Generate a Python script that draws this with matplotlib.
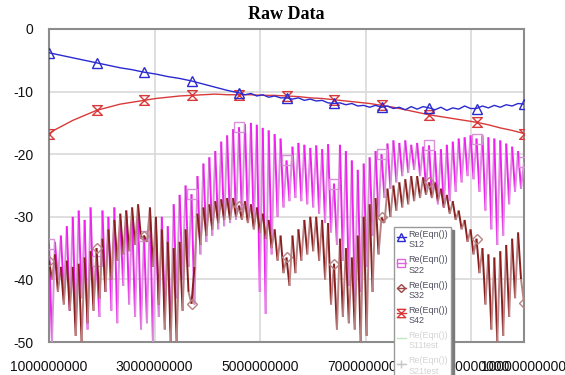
import numpy as np
import matplotlib.pyplot as plt
from matplotlib.lines import Line2D
from matplotlib.path import Path
from matplotlib.collections import LineCollection
from matplotlib.legend_handler import HandlerLine2D

plt.rcParams['font.family'] = ['Liberation Sans', 'DejaVu Sans']
plt.rcParams['axes.unicode_minus'] = False

# frequency sweep (Hz)
f_start, f_stop = 1e9, 1e10
x_ticks = [1e9, 3e9, 5e9, 7e9, 9e9, 1e10]
y_ticks = [0, -10, -20, -30, -40, -50]

# S12 and S42 are smooth traces, 81 samples across the sweep
s12 = [-3.8, -4.0, -4.2, -4.4, -4.6, -4.8, -5.0, -5.2,
       -5.4, -5.6, -5.8, -6.0, -6.2, -6.35, -6.5, -6.7,
       -6.9, -7.05, -7.2, -7.4, -7.6, -7.75, -7.9, -8.1,
       -8.3, -8.55, -8.8, -9.05, -9.3, -9.55, -9.8, -10.0,
       -10.2, -10.5, -10.3, -10.7, -10.5, -10.9, -10.7, -11.0,
       -11.0, -11.2, -11.0, -11.4, -11.2, -11.5, -11.4, -11.8,
       -11.9, -11.8, -12.1, -11.9, -12.3, -12.2, -12.5, -12.2,
       -12.5, -12.3, -12.7, -12.5, -12.9, -12.4, -12.8, -12.4,
       -12.6, -12.9, -12.5, -13.0, -12.6, -12.8, -12.3, -12.7,
       -12.7, -12.3, -12.6, -12.2, -12.5, -12.1, -12.3, -11.9,
       -12.0]
s42 = [-16.7, -16.1, -15.6, -15.1, -14.6, -14.2, -13.8, -13.4,
       -13.0, -12.75, -12.5, -12.25, -12.0, -11.85, -11.7, -11.55,
       -11.4, -11.25, -11.1, -11.0, -10.9, -10.8, -10.7, -10.65,
       -10.6, -10.55, -10.5, -10.45, -10.4, -10.45, -10.5, -10.5,
       -10.5, -10.5, -10.5, -10.55, -10.6, -10.6, -10.6, -10.65,
       -10.7, -10.75, -10.8, -10.9, -11.0, -11.05, -11.1, -11.2,
       -11.3, -11.4, -11.5, -11.6, -11.7, -11.8, -11.9, -12.05,
       -12.2, -12.35, -12.5, -12.7, -12.9, -13.1, -13.3, -13.5,
       -13.7, -13.85, -14.0, -14.15, -14.3, -14.45, -14.6, -14.75,
       -14.9, -15.1, -15.3, -15.55, -15.8, -16.0, -16.2, -16.45,
       -16.7]

# S22 / S32 ripple hard: local maxima (81) and minima (80) of each trace
s22_hi = [-34.3, -34, -33, -31.5, -30, -29, -30.5, -28.5,
          -37, -29, -30, -28.5, -30.5, -29, -30, -29.5,
          -33, -29, -31, -30, -31.5, -28, -26.5, -25,
          -26.4, -23.5, -21.5, -20.5, -19.5, -18, -17, -16,
          -15.7, -15.2, -15, -15.3, -15.8, -16.2, -16.8, -17.5,
          -21, -18.8, -18.2, -18.5, -19, -18.6, -19.2, -18.4,
          -24.7, -18.5, -19.5, -21, -22.5, -21.5, -20.5, -19.5,
          -20, -18.3, -17.8, -18.2, -17.8, -18.5, -18.2, -18.8,
          -18.6, -19.5, -19.2, -18.5, -18, -17.5, -17.3, -17,
          -17.5, -17, -17.3, -17.5, -17.8, -18.3, -18.8, -19.5,
          -21.3]
s22_lo = [-50, -40, -42, -45, -47, -43, -48, -44,
          -46, -42, -45, -47, -41, -44, -46, -48,
          -47, -50, -46, -45, -48, -43, -40, -38,
          -44, -36, -34, -33, -32, -31.5, -31, -30.5,
          -30, -30.5, -31.5, -42, -45.5, -36, -30, -28.5,
          -27.5, -27, -27.5, -28, -28.5, -29.5, -31, -32.5,
          -34.5, -37, -41, -43.5, -42, -38, -33, -30,
          -27, -25.5, -24.5, -23.5, -23, -22.5, -23.5, -25.5,
          -27, -28, -28.5, -27.5, -26, -24.5, -23.5, -24,
          -26, -29, -32, -34.5, -33, -28, -26, -25.5]
s32_hi = [-37, -36, -38, -37, -38, -37.5, -36.5, -35.5,
          -35, -33.5, -32, -30.5, -29.5, -29, -28.5, -28,
          -33, -28.5, -30, -32, -34, -35, -34, -32,
          -43.9, -29.5, -28.5, -28, -27.5, -27.2, -27, -27,
          -28.2, -27.5, -28, -28.5, -29.5, -30.5, -32, -33,
          -36.5, -33, -32, -30.5, -30, -30, -30.5, -31,
          -37.5, -33.5, -35, -36.5, -33, -30, -28, -27,
          -30.1, -25.5, -25, -24.5, -24, -23.5, -23.5, -23.7,
          -24.5, -24.5, -25.5, -26.5, -27.5, -29, -30.5, -32,
          -33.5, -35, -36, -36.5, -35.5, -34.5, -33.5, -32.5,
          -43.7]
s32_lo = [-40, -42, -44, -45, -49, -50, -47, -45,
          -43, -42, -40, -37, -36, -35.5, -34.5, -33.5,
          -34, -38, -44, -48, -50, -50, -45, -42,
          -38, -34.5, -33, -32, -31, -30.5, -30.5, -30,
          -30.5, -31, -32, -32.5, -33.5, -35, -37, -39,
          -41, -39, -37, -36, -35.5, -37, -40, -44,
          -48, -46, -47, -48, -50, -49, -42, -36,
          -31, -30, -29, -28.5, -28, -27.5, -27, -26.5,
          -27, -27.5, -28.5, -29.5, -30.5, -32, -34, -36,
          -39, -44, -48, -50, -49, -46, -43, -40]

f_smooth = np.linspace(f_start, f_stop, len(s12))
f_ripple = np.linspace(f_start, f_stop, len(s22_hi) + len(s22_lo))


def interleave(hi, lo):
    out = np.empty(len(hi) + len(lo))
    out[0::2] = hi
    out[1::2] = lo
    return out


def ripple(ax, y, fall_color, rise_color, marker, ms):
    # falling and rising strokes get slightly different shades
    pts = np.column_stack([f_ripple, y])
    segs = np.stack([pts[:-1], pts[1:]], axis=1)
    cols = [fall_color if i % 2 == 0 else rise_color for i in range(len(segs))]
    ax.add_collection(LineCollection(segs, colors=cols, linewidths=1.4, zorder=3))
    ax.plot(f_ripple, y, ls='none', color=rise_color, marker=marker, ms=ms,
            mfc='none', markevery=16, zorder=3)


class RaisedLine(HandlerLine2D):
    # put the legend symbol next to the first line of a two-line label
    def create_artists(self, legend, orig_handle, xdescent, ydescent, width, height,
                       fontsize, trans):
        arts = super().create_artists(legend, orig_handle, xdescent, ydescent, width,
                                      height, fontsize, trans)
        for a in arts:
            a.set_ydata(np.asarray(a.get_ydata()) + 0.3 * fontsize)
        return arts


s22 = interleave(s22_hi, s22_lo)
s32 = interleave(s32_hi, s32_lo)

hourglass = Path([(-1, 1), (1, 1), (-1, -1), (1, -1), (-1, 1)],
                 [Path.MOVETO, Path.LINETO, Path.LINETO, Path.LINETO, Path.CLOSEPOLY])

fig = plt.figure(figsize=(5.65, 3.75), dpi=100)
ax = fig.add_axes([49 / 565, 1 - 342 / 375, 475 / 565, 313 / 375])

ripple(ax, s22, '#f020f0', '#d890d8', 's', 7)
ripple(ax, s32, '#8a1e1e', '#b88282', 'D', 5)
ax.plot(f_smooth, s42, color='#d83a3a', lw=1.0, marker=hourglass, ms=7, mfc='none',
        markevery=8, zorder=4)
ax.plot(f_smooth, s12, color='#2a2ad0', lw=1.0, marker='^', ms=7, mfc='none',
        markevery=8, zorder=4)

ax.set_xlim(f_start, f_stop)
ax.set_ylim(-50, 0)
ax.set_xticks(x_ticks)
ax.set_xticklabels([f'{int(v)}' for v in x_ticks])
ax.set_yticks(y_ticks)
ax.tick_params(length=0, labelsize=10, colors='#111111')
ax.tick_params(axis='y', pad=11)
ax.tick_params(axis='x', pad=13)
ax.grid(True, color='#d9d9d9', lw=1.2)
ax.set_axisbelow(True)
for sp in ax.spines.values():
    sp.set_color('#8c8c8c')
    sp.set_linewidth(1.5)

ax.set_title('Raw Data', family='Liberation Serif', fontweight='bold', fontsize=13, pad=7)

handles = [
    Line2D([], [], color='#2a2ad0', lw=1, marker='^', ms=6, mfc='none'),
    Line2D([], [], color='#dd66dd', lw=1, marker='s', ms=6, mfc='none'),
    Line2D([], [], color='#a04848', lw=1, marker='D', ms=4.5, mfc='none'),
    Line2D([], [], color='#d83a3a', lw=1, marker=hourglass, ms=6, mfc='none'),
    Line2D([], [], color='#bfe6bf', lw=1),
    Line2D([], [], color='#c8c8c8', lw=1, marker='+', ms=6),
]
labels = ['Re(Eqn())\nS12', 'Re(Eqn())\nS22', 'Re(Eqn())\nS32', 'Re(Eqn())\nS42',
          'Re(Eqn())\nS11test', 'Re(Eqn())\nS21test']
leg = ax.legend(handles, labels, loc='upper left',
                bbox_to_anchor=(392 / 565, 1 - 225 / 375), bbox_transform=fig.transFigure,
                handler_map={Line2D: RaisedLine()},
                prop={'family': 'Liberation Sans', 'size': 6.5},
                labelcolor=['#505060'] * 4 + ['#d4d4d4'] * 2,
                handlelength=1.0, handletextpad=0.3, borderpad=0.35, labelspacing=0.65,
                borderaxespad=0.2, fancybox=False, edgecolor='#9a9a9a', framealpha=1,
                shadow={'color': '#7a7a7a', 'alpha': 1})
leg.get_frame().set_linewidth(1.0)
leg.set_zorder(10)

fig.savefig('out.png', dpi=100)
